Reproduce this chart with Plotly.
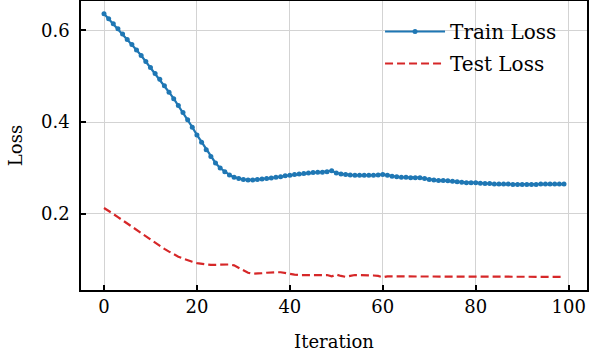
import plotly.graph_objects as go

iterations = list(range(100))

train_loss = [
    0.636, 0.625, 0.614, 0.603, 0.592, 0.580, 0.569, 0.557, 0.545, 0.532,
    0.519, 0.506, 0.493, 0.479, 0.465, 0.451, 0.436, 0.421, 0.405, 0.389,
    0.372, 0.356, 0.340, 0.325, 0.311, 0.300, 0.292, 0.285, 0.280, 0.277,
    0.275, 0.274, 0.274, 0.275, 0.276, 0.277, 0.278, 0.280, 0.281, 0.283,
    0.284, 0.286, 0.287, 0.288, 0.289, 0.290, 0.291, 0.291, 0.292, 0.294,
    0.289, 0.287, 0.286, 0.285, 0.284, 0.284, 0.284, 0.284, 0.284, 0.285,
    0.286, 0.284, 0.282, 0.281, 0.280, 0.280, 0.279, 0.279, 0.279, 0.277,
    0.275, 0.274, 0.273, 0.273, 0.272, 0.271, 0.270, 0.269, 0.268, 0.268,
    0.268, 0.267, 0.266, 0.266, 0.265, 0.265, 0.265, 0.265, 0.264, 0.264,
    0.264, 0.264, 0.264, 0.264, 0.265, 0.265, 0.265, 0.265, 0.265, 0.265,
]

test_loss = [
    0.213, 0.207, 0.200, 0.193, 0.186, 0.179, 0.172, 0.165, 0.158, 0.151,
    0.144, 0.137, 0.131, 0.124, 0.118, 0.112, 0.107, 0.103, 0.099, 0.096,
    0.093, 0.091, 0.090, 0.089, 0.089, 0.089, 0.090, 0.090, 0.088, 0.083,
    0.077, 0.072, 0.070, 0.070, 0.071, 0.072, 0.073, 0.073, 0.073, 0.071,
    0.069, 0.068, 0.067, 0.067, 0.067, 0.067, 0.068, 0.068, 0.067, 0.064,
    0.068, 0.065, 0.063, 0.065, 0.067, 0.067, 0.067, 0.067, 0.066, 0.065,
    0.062, 0.064, 0.064, 0.064, 0.064, 0.063, 0.063, 0.064, 0.064, 0.063,
    0.063, 0.063, 0.063, 0.063, 0.063, 0.063, 0.063, 0.063, 0.063, 0.063,
    0.063, 0.063, 0.063, 0.063, 0.063, 0.063, 0.063, 0.063, 0.063, 0.063,
    0.063, 0.063, 0.063, 0.063, 0.063, 0.063, 0.063, 0.063, 0.063, 0.063,
]

x_ticks = [0, 20, 40, 60, 80, 100]
y_ticks = [0.2, 0.4, 0.6]
y_tick_labels = ["0.2", "0.4", "0.6"]

FONT = "DejaVu Serif"

fig = go.Figure()
fig.add_trace(go.Scatter(
    x=iterations, y=train_loss, name="Train Loss",
    mode="lines+markers", legendgroup="train",
    line=dict(color="#1f77b4", width=2.2),
    marker=dict(color="#1f77b4", size=5),
))
fig.add_trace(go.Scatter(
    x=iterations, y=test_loss, name="Test Loss",
    mode="lines", legendgroup="test",
    line=dict(color="#d62728", width=2.2, dash="8px,4px"),
))

axis_common = dict(
    showline=True, linecolor="black", linewidth=1.5, mirror=True,
    ticks="inside", ticklen=5, tickwidth=1.5, tickcolor="black",
    showgrid=True, gridcolor="#d3d3d3", gridwidth=1,
    zeroline=False, automargin=False,
    tickfont=dict(family=FONT, size=18, color="black"),
)

fig.update_layout(
    width=589, height=360,
    margin=dict(l=81, r=2, t=1, b=70),
    paper_bgcolor="white", plot_bgcolor="white",
    font=dict(family=FONT, size=18, color="black"),
    showlegend=True,
    legend=dict(
        x=0.591, y=0.962, xanchor="left", yanchor="top",
        bgcolor="rgba(255,255,255,0)", borderwidth=0,
        font=dict(family=FONT, size=20, color="black"),
        tracegroupgap=3, itemwidth=60, traceorder="grouped",
    ),
    xaxis=dict(
        range=[-4.95, 103.95], tickvals=x_ticks,
        title=dict(text="Iteration", font=dict(family=FONT, size=18), standoff=19),
        **axis_common,
    ),
    yaxis=dict(
        range=[0.0344, 0.6636], tickvals=y_ticks, ticktext=y_tick_labels,
        title=dict(text="Loss", font=dict(family=FONT, size=18), standoff=14),
        ticklabelstandoff=6,
        **axis_common,
    ),
)

fig.write_html(
    "out.html",
    config={"displayModeBar": False},
    post_script="document.body.style.margin='0';document.body.style.overflow='hidden';",
)
